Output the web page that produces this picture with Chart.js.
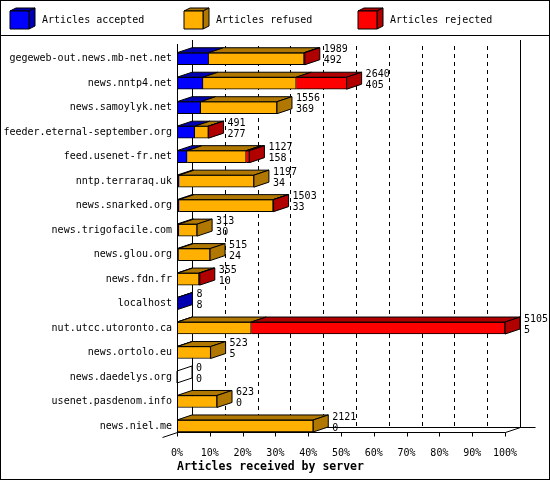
<!DOCTYPE html>
<html lang="en">
<head>
<meta charset="UTF-8">
<title>Articles received by server</title>
<script src="https://cdn.jsdelivr.net/npm/chart.js"></script>
<style>
  html, body { margin: 0; padding: 0; background: #fff; }
</style>
</head>
<body>
<canvas id="srvChart" width="550" height="480"></canvas>
<script>
const servers = [
  "gegeweb-out.news.mb-net.net", "news.nntp4.net", "news.samoylyk.net",
  "feeder.eternal-september.org", "feed.usenet-fr.net", "nntp.terraraq.uk",
  "news.snarked.org", "news.trigofacile.com", "news.glou.org", "news.fdn.fr",
  "localhost", "nut.utcc.utoronto.ca", "news.ortolo.eu", "news.daedelys.org",
  "usenet.pasdenom.info", "news.niel.me"
];
const accepted = [492, 405, 369, 277, 158, 34, 33, 30, 24, 10, 8, 5, 5, 0, 0, 0];
const refused  = [1485, 1450, 1187, 210, 918, 1163, 1462, 283, 491, 332, 0, 1150, 518, 0, 623, 2121];
const rejected = [12, 785, 0, 4, 51, 0, 8, 0, 0, 13, 0, 3950, 0, 0, 0, 0];
const tickLabels = ["0%", "10%", "20%", "30%", "40%", "50%", "60%", "70%", "80%", "90%", "100%"];

const front = ["#0000ff", "#ffb000", "#ff0000"];
const dark  = ["#0000b0", "#b07800", "#b00000"];
const MONO = '"DejaVu Sans Mono", monospace';
const DX = 15, DY = 5;

// bars are scaled against the busiest server (= 100%)
const totals = servers.map((s, i) => accepted[i] + refused[i] + rejected[i]);
const maxTotal = Math.max(...totals);
const pct = arr => arr.map(v => v / maxTotal * 100);

function poly(ctx, pts, fill) {
  ctx.beginPath();
  ctx.moveTo(pts[0][0], pts[0][1]);
  for (let i = 1; i < pts.length; i++) ctx.lineTo(pts[i][0], pts[i][1]);
  ctx.closePath();
  if (fill) { ctx.fillStyle = fill; ctx.fill(); }
  ctx.stroke();
}
function line(ctx, x1, y1, x2, y2) {
  ctx.beginPath();
  ctx.moveTo(x1, y1);
  ctx.lineTo(x2, y2);
  ctx.stroke();
}
const crisp = v => Math.round(v) + 0.5;

const box3d = {
  id: "box3d",
  beforeDraw(chart) {
    const ctx = chart.ctx;
    ctx.save();
    ctx.fillStyle = "#fff";
    ctx.fillRect(0, 0, chart.width, chart.height);
    ctx.restore();
  },
  beforeDatasetsDraw(chart) {
    const { ctx, chartArea: a, scales: { x, y } } = chart;
    const floorY = crisp(y.getPixelForValue(servers.length - 1) + 6);
    const topY = a.top - 6.5;
    const x0 = crisp(x.getPixelForValue(0)), x100 = crisp(x.getPixelForValue(100));
    ctx.save();
    ctx.strokeStyle = "#000";
    ctx.lineWidth = 1;
    // back wall grid
    ctx.setLineDash([4, 4]);
    for (let v = 10; v < 100; v += 10) {
      const px = crisp(x.getPixelForValue(v) + DX);
      line(ctx, px, topY + 6, px, floorY - DY);
    }
    ctx.setLineDash([]);
    line(ctx, x0 + DX, topY, x0 + DX, floorY - DY);
    line(ctx, x100 + DX, topY, x100 + DX, floorY - DY);
    // floor
    line(ctx, x0, floorY, x100, floorY);
    line(ctx, x0 + DX, floorY - DY, x100 + 2 * DX, floorY - DY);
    line(ctx, x0 - DX, floorY + DY, x0 + DX, floorY - DY);
    line(ctx, x100, floorY, x100 + DX, floorY - DY);
    for (let v = 0; v <= 100; v += 10) {
      const px = crisp(x.getPixelForValue(v));
      line(ctx, px, floorY, px, floorY + 4);
    }
    ctx.restore();
  },
  afterDatasetsDraw(chart) {
    const { ctx, chartArea: a, scales: { x, y } } = chart;
    const metas = [0, 1, 2].map(k => chart.getDatasetMeta(k));
    ctx.save();
    ctx.strokeStyle = "#000";
    ctx.lineWidth = 1;
    ctx.lineJoin = "miter";
    servers.forEach((s, i) => {
      let last = -1, xe = null, top = 0, bot = 0, yc = 0;
      metas.forEach((meta, k) => {
        const el = meta.data[i];
        const p = el.getProps(["x", "base", "y", "height"], true);
        yc = p.y; top = p.y - p.height / 2; bot = p.y + p.height / 2;
        if (xe === null) xe = p.base;
        if (p.x - p.base > 0.01) {
          poly(ctx, [[p.base, top], [p.x, top], [p.x + DX, top - DY], [p.base + DX, top - DY]], dark[k]);
          last = k;
          xe = p.x;
        }
      });
      poly(ctx, [[xe, top], [xe + DX, top - DY], [xe + DX, bot - DY], [xe, bot]], last >= 0 ? dark[last] : null);
      ctx.fillStyle = "#000";
      ctx.font = "10px " + MONO;
      ctx.textAlign = "left";
      ctx.textBaseline = "middle";
      ctx.fillText(String(totals[i]), xe + DX + 4, yc - 9);
      ctx.fillText(String(accepted[i]), xe + DX + 4, yc + 2);
    });
    // front left axis
    const x0 = crisp(x.getPixelForValue(0));
    line(ctx, x0, a.top - 2.5, x0, crisp(y.getPixelForValue(servers.length - 1) + 6));
    ctx.restore();
  },
  afterDraw(chart) {
    const ctx = chart.ctx;
    ctx.save();
    ctx.strokeStyle = "#000";
    ctx.lineWidth = 1;
    // legend
    const legendX = [10, 184, 358];
    chart.data.datasets.forEach((ds, k) => {
      const lx = legendX[k], ly = 11, w = 19, h = 18, d = 6, e = 3;
      poly(ctx, [[lx, ly], [lx + w, ly], [lx + w + d, ly - e], [lx + d, ly - e]], dark[k]);
      poly(ctx, [[lx + w, ly], [lx + w + d, ly - e], [lx + w + d, ly + h - e], [lx + w, ly + h]], dark[k]);
      poly(ctx, [[lx, ly], [lx + w, ly], [lx + w, ly + h], [lx, ly + h]], front[k]);
      ctx.fillStyle = "#000";
      ctx.font = "10px " + MONO;
      ctx.textAlign = "left";
      ctx.textBaseline = "middle";
      ctx.fillText(ds.label, lx + 32, 20);
    });
    line(ctx, 0, 35.5, chart.width, 35.5);
    ctx.strokeRect(0.5, 0.5, chart.width - 1, chart.height - 1);
    ctx.restore();
  }
};

const ctx = document.getElementById("srvChart").getContext("2d");
new Chart(ctx, {
  type: "bar",
  data: {
    labels: servers,
    datasets: [
      { label: "Articles accepted", data: pct(accepted), backgroundColor: front[0] },
      { label: "Articles refused", data: pct(refused), backgroundColor: front[1] },
      { label: "Articles rejected", data: pct(rejected), backgroundColor: front[2] }
    ]
  },
  options: {
    indexAxis: "y",
    responsive: false,
    animation: false,
    devicePixelRatio: 1,
    datasets: {
      bar: { barThickness: 12, borderWidth: 1, borderColor: "#000", borderSkipped: "start" }
    },
    layout: { padding: { top: 46.5, right: 45, bottom: 0, left: 0 } },
    scales: {
      x: {
        type: "linear",
        stacked: true,
        min: 0,
        max: 100,
        grid: { display: false },
        border: { display: false },
        ticks: {
          stepSize: 10,
          autoSkip: false,
          maxRotation: 0,
          padding: 1,
          color: "#000",
          font: { family: MONO, size: 10 },
          callback: (v, i) => tickLabels[i]
        },
        title: {
          display: true,
          text: "Articles received by server",
          align: "start",
          color: "#000",
          font: { family: MONO, size: 11.5, weight: "bold" },
          padding: { top: 0, bottom: 6 }
        }
      },
      y: {
        stacked: true,
        grid: { display: false, drawTicks: false },
        border: { display: false },
        afterFit: scale => { scale.width = 177; },
        ticks: {
          autoSkip: false,
          padding: 5,
          color: "#000",
          font: { family: MONO, size: 10 }
        }
      }
    },
    plugins: {
      legend: { display: false },
      tooltip: { enabled: false }
    }
  },
  plugins: [box3d]
});
</script>
</body>
</html>
